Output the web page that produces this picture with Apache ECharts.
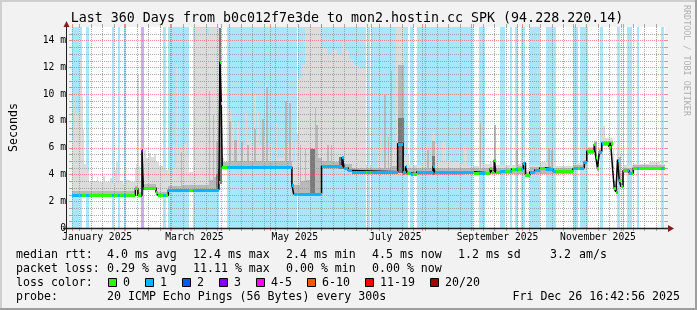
<!DOCTYPE html>
<html><head><meta charset="utf-8">
<script src="https://cdn.jsdelivr.net/npm/echarts@6/dist/echarts.min.js"></script>
<style>html,body{margin:0;padding:0;background:#f2f2f2}#c{width:697px;height:310px}</style>
</head><body><div id="c"></div><script>
// ---------- time frame (days since start of window) ----------
const START = Date.UTC(2024, 11, 31, 16, 42, 56);
const DAY = 86400000;
const SPAN = 360;
const YMAX = 15;
const dayOf = (y, m, d) => (Date.UTC(y, m, d) - START) / DAY;

// ---------- tick labels ----------
const xLabels = ['January 2025', 'March 2025', 'May 2025', 'July 2025', 'September 2025', 'November 2025'];
const xLabelMonths = [0, 2, 4, 6, 8, 10];
const yLabelValues = [0, 2, 4, 6, 8, 10, 12, 14];
const yLabels = ['0', '2 m', '4 m', '6 m', '8 m', '10 m', '12 m', '14 m'];

// ---------- loss background bands: [startDay, endDay, lossLevel] ----------
const lossBands = [
  [0,4.4,1],[4.8,6.1,1],[8.7,10.2,1],[24.1,25.3,1],[28.2,29.2,1],[31.8,32.8,1],[41.8,43.6,3],
  [55.4,57,1],[58.1,71.2,1],[73.3,89.3,1],[94.3,136.7,1],[137.3,178.5,1],[179.1,180.9,1],
  [181.8,203.8,1],[205.3,206.8,1],[209.5,243.2,1],[247,250.8,1],[260.1,263.1,1],[266.1,267,1],
  [269.1,270.8,1],[272.7,274.8,1],[278.1,284.2,1],[287.8,294,1],[304.3,307,1],[308.4,313.1,1],
  [320.6,322.1,1],[331.1,332.4,1],[334.4,335.3,1],[336.8,340.2,1],[343.2,344.5,1],[357.8,359.4,1]
];

// ---------- median rtt (ms): [startDay, endDay, value] ----------
const medianRuns = [
  [0,38.5,2.45],[38.5,40,2.95],[40,42.5,2.45],[42.5,43.3,5.8],[43.3,51,3.0],[51,52.2,2.7],[52.2,58.5,2.45],
  [58.5,89.2,2.85],[89.2,89.8,3.4],[89.8,90.6,12.4],[90.6,91.2,9.3],[91.2,133.5,4.55],[133.5,134.6,3.2],
  [134.6,151.5,2.55],[151.5,164,4.6],[164,165.2,5.3],[165.2,167.6,4.5],[167.6,170,4.3],[170,197.7,4.2],
  [197.7,201,6.3],[201,202.5,4.15],[202.5,203.5,4.6],[203.5,205.5,4.1],[205.5,209.3,4.05],[209.3,219.2,4.2],
  [219.2,220.4,4.6],[220.4,237.8,4.15],[237.8,243.8,4.2],[243.8,253.9,4.1],[253.9,255,4.45],[255,256.3,4.2],
  [256.3,257.3,5.1],[257.3,259.9,4.15],[259.9,266.9,4.25],[266.9,274,4.4],[274,275.3,4.85],[275.3,278,3.95],
  [278,281,4.2],[281,284,4.35],[284,287,4.5],[287,292,4.4],[292,304,4.25],[304,305,4.4],[305,311,4.5],
  [311,312.5,4.95],[312.5,317,5.75],[317,318,6.25],[318,319,5.3],[319,320.2,4.45],[320.2,321.6,5.7],
  [321.6,326,6.35],[326,327,6.05],[327,328.2,6.35],[328.2,329.2,4.4],[329.2,330.2,2.95],[330.2,331.2,2.7],
  [331.2,332.2,5.1],[332.2,333.2,3.6],[333.2,334.5,3.1],[334.5,338.2,4.3],[338.2,340.8,4.1],[340.8,360,4.5]
];

// ---------- smoke (ms): lower edge, and tops of light / mid / dark layers ----------
const smokeLowRuns = [
  [0,38.5,2.3],[38.5,40,2.8],[40,42.5,2.3],[42.5,43.3,2.9],[43.3,51,2.85],[51,52.2,2.5],[52.2,58.5,2.3],
  [58.5,89.2,2.7],[89.2,91.2,3.3],[91.2,133.5,4.4],[133.5,134.6,2.5],[134.6,151.5,2.4],[151.5,167.6,4.4],
  [167.6,170,4.15],[170,197.7,4.0],[197.7,201,4.1],[201,237.8,3.95],[237.8,275.3,4.0],[275.3,278,3.8],
  [278,304,4.05],[304,311,4.3],[311,312.5,4.7],[312.5,317,5.55],[317,318,5.9],[318,319,5.1],[319,320.2,4.25],
  [320.2,321.6,5.5],[321.6,328.2,6.1],[328.2,329.2,4.2],[329.2,330.2,2.75],[330.2,331.2,2.55],[331.2,332.2,4.8],
  [332.2,333.2,3.4],[333.2,334.5,2.95],[334.5,338.2,4.1],[338.2,340.8,3.95],[340.8,360,4.3]
];
const smokeLightRuns = [
  [0,1,6.6],[1,2,9.8],[2,3,8.6],[3,4.4,8.6],[4.4,5.5,12.6],[5.5,6.5,9.8],[6.5,7.5,7.4],[7.5,9,4.8],[9,10.5,4.2],
  [10.5,12,3.4],[12,13,4.0],[13,15,3.5],[15,16,3.8],[16,19,3.4],[19,20,3.9],[20,23,3.4],[23,24,3.7],[24,26,3.3],
  [26,27,4.3],[27,28,4.9],[28,29,3.9],[29,31,3.5],[31,33,3.3],[33,35,3.6],[35,38,3.4],
  [38,39,4.5],[39,39.7,4.8],[39.7,40.3,11.4],[40.3,41.5,4.6],[41.5,42.5,3.5],
  [42.5,43.5,6.0],[43.5,45,5.8],[45,47,5.2],[47,48,5.6],[48,50,5.3],[50,51,5.5],[51,53,4.9],[53,55,4.6],[55,57,4.2],[57,59.2,4.3],
  [59.2,61.2,3.8],[61.2,62.2,6.2],[62.2,63.2,4.5],[63.2,64.2,12.2],[64.2,64.8,5.5],[64.8,65.8,12.0],[65.8,68.2,5.8],
  [68.2,69.6,6.3],[69.6,71.2,5.5],[71.2,73.3,4.2],[73.3,74.9,14.0],[74.9,81.3,14.95],[81.3,83,14.5],[83,91.2,14.95],
  [91.2,92.3,5.2],[92.3,93.3,4.7],[93.3,94.3,5.0],[94.3,95.4,9.05],[95.4,96.8,8.9],[96.8,97.4,5.5],[97.4,98.4,7.9],
  [98.4,100.4,6.6],[100.4,101.4,7.9],[101.4,102.4,5.6],[102.4,103.4,6.9],[103.4,105.4,6.2],[105.4,106.4,8.6],
  [106.4,108.4,6.6],[108.4,109.4,7.7],[109.4,110.4,6.2],[110.4,111.4,10.0],[111.4,112.4,6.9],[112.4,113.4,8.7],
  [113.4,115.4,6.2],[115.4,116.4,8.1],[116.4,117.4,6.7],[117.4,118.6,10.7],[118.6,120.4,5.7],[120.4,121.4,6.3],
  [121.4,123,5.0],[123,124.4,7.8],[124.4,128.4,5.2],[128.4,129.4,5.8],[129.4,130.7,9.6],[130.7,131.9,6.3],
  [131.9,133.1,9.4],[133.1,134,6.6],[134,135.5,5.0],[135.5,136.7,6.4],[136.7,137.5,7.0],[137.5,139.5,11.2],
  [139.5,141.5,12.2],[141.5,151.5,14.95],[151.5,155,13.4],[155,158,13.0],[158,161,13.3],[161,164,13.0],
  [164,166,13.9],[166,168,13.2],[168,171,12.6],[171,174,12.2],[174,176.5,12.0],[176.5,178.5,11.9],
  [178.5,181.6,4.7],[181.6,185.6,4.5],[185.6,186.6,5.8],[186.6,187.6,7.1],[187.6,189.6,5.0],[189.6,190.7,9.9],
  [190.7,191.7,5.5],[191.7,192.7,6.8],[192.7,193.7,5.6],[193.7,194.5,11.7],[194.5,196.7,6.0],[196.7,201.3,14.95],
  [201.3,202.7,5.3],[202.7,204.7,5.5],[204.7,211.7,4.7],[211.7,212.7,5.8],[212.7,214.7,5.0],[214.7,215.8,6.2],
  [215.8,216.8,5.8],[216.8,218.8,5.0],[218.8,220.4,7.1],[220.4,221.8,6.3],[221.8,224.8,5.0],[224.8,226.8,6.4],
  [226.8,228.8,5.0],[228.8,229.8,5.3],[229.8,234.8,4.9],[234.8,235.8,5.9],[235.8,237.8,4.8],[237.8,238.8,6.2],
  [238.8,239.8,5.8],[239.8,240.8,4.6],[240.8,241.8,4.95],[241.8,247.4,4.6],[247.4,248.4,7.8],[248.4,253.9,4.8],
  [253.9,254.9,4.9],[254.9,256.3,4.6],[256.3,257.5,7.7],[257.5,269.5,4.7],[269.5,270.5,5.8],[270.5,274,4.8],
  [274,275.2,5.2],[275.2,278,4.3],[278,284,4.7],[284,289,4.95],[289,290.4,5.9],[290.4,291,5.0],[291,292,5.8],
  [292,294,4.9],[294,304,4.6],[304,311,4.85],[311,312.5,5.2],[312.5,317,6.05],[317,319,6.5],[319,320.2,5.0],
  [320.2,321.6,6.0],[321.6,323.5,7.6],[323.5,328.2,6.7],[328.2,329.2,5.9],[329.2,331.2,3.5],[331.2,333.2,5.5],
  [333.2,334.5,4.0],[334.5,340.8,4.7],[340.8,350,4.8],[350,357,4.95],[357,360,4.8]
];
const smokeMidRuns = [
  [0,38.5,2.75],[38.5,40,3.1],[40,42.5,2.7],[42.5,43.3,5.9],[43.3,51,3.25],[51,58.5,2.7],[58.5,66,3.1],[66,67,5.7],
  [67,82.9,3.2],[82.9,83.9,10.2],[83.9,85.3,3.6],[85.3,86.3,8.4],[86.3,87.3,3.8],[87.3,88.5,6.4],[88.5,89.2,3.8],
  [89.2,90.6,14.95],[90.6,91.2,9.5],[91.2,95.4,4.9],[95.4,96.8,7.9],[96.8,98.4,5.0],[98.4,100.4,6.6],[100.4,102.4,5.0],
  [102.4,103.6,6.4],[103.6,106.4,5.0],[106.4,107.4,6.2],[107.4,110.2,5.0],[110.2,111.4,7.4],[111.4,115.4,5.0],
  [115.4,116.4,8.1],[116.4,118,5.0],[118,119,10.5],[119,129.4,5.0],[129.4,130.4,9.5],[130.4,131.9,5.0],
  [131.9,133.1,9.3],[133.1,133.5,5.0],[133.5,138.3,3.2],[138.3,139.3,6.2],[139.3,141.3,3.5],[141.3,142.3,5.9],
  [142.3,144.3,3.6],[144.3,146.3,6.0],[146.3,147.3,5.9],[147.3,148.3,8.95],[148.3,149.3,7.7],[149.3,151.5,5.2],
  [151.5,155,5.0],[155,156,6.2],[156,157,5.0],[157,158,6.2],[158,164,4.9],[164,165.2,5.4],[165.2,170,4.8],
  [170,189.6,4.5],[189.6,190.7,9.9],[190.7,191.7,4.5],[191.7,192.7,6.8],[192.7,193.7,4.5],[193.7,194.5,11.7],
  [194.5,197.7,4.6],[197.7,201.3,12.2],[201.3,215.8,4.5],[215.8,216.8,5.8],[216.8,218.8,4.5],[218.8,220.4,6.5],
  [220.4,247.4,4.5],[247.4,248.4,7.8],[248.4,256.3,4.45],[256.3,257.5,7.7],[257.5,269.5,4.5],[269.5,270.5,5.8],
  [270.5,275.3,4.6],[275.3,278,4.15],[278,289,4.55],[289,290.4,5.9],[290.4,291,4.6],[291,292,5.8],[292,304,4.45],
  [304,311,4.7],[311,312.5,5.1],[312.5,317,5.95],[317,319,6.4],[319,320.2,4.7],[320.2,321.6,5.9],[321.6,328.2,6.5],
  [328.2,329.2,4.6],[329.2,331.2,3.1],[331.2,333.2,5.3],[333.2,334.5,3.3],[334.5,340.8,4.45],[340.8,360,4.7]
];
const smokeDarkRuns = [
  [87.3,88.7,4.0],[88.7,89.2,4.4],[89.2,90.6,14.95],[90.6,91.2,9.5],[144.3,147.3,5.9],[162,165.2,5.3],
  [197.7,201.3,8.2],[218.8,220.4,5.4]
];

// ---------- legend text ----------
const title = 'Last 360 Days from b0c012f7e3de to mon2.hostin.cc SPK (94.228.220.14)';
const medianStats = ['4.0 ms avg', '12.4 ms max', '2.4 ms min', '4.5 ms now', '1.2 ms sd', '3.2', 'am/s'];
const lossStats = ['0.29 % avg', '11.11 % max', '0.00 % min', '0.00 % now'];
const lossLegend = ['0', '1', '2', '3', '4-5', '6-10', '11-19', '20/20'];
const lossLegendColors = ['#26ff00', '#00b8ff', '#0059ff', '#7e00ff', '#ff00ff', '#ff5500', '#ff0000', '#a00000'];
const probeText = '20 ICMP Echo Pings (56 Bytes) every 300s';
const stampText = 'Fri Dec 26 16:42:56 2025';

// ---------- styling ----------
const MONO = '"DejaVu Sans Mono", monospace';
const FS = 11.6;      // legend / unit font
const AFS = 9.7;      // axis tick label font
const FONT = FS + 'px ' + MONO;
const MINOR = 'rgba(143,143,143,0.75)';
const MAJOR = 'rgba(222,79,79,0.6)';
const bandColor = {1: '#aae6fb', 3: '#d0abf5'};
const medianColor = {0: '#26ff00', 1: '#00b8ff', 3: '#7e00ff'};

const monthStarts = [];
for (let m = 0; m < 12; m++) monthStarts.push(dayOf(2025, m, 1));
const weekStarts = [];
for (let d = dayOf(2025, 0, 5); d < SPAN; d += 7) weekStarts.push(d);
const xLabelDays = xLabelMonths.map(m => dayOf(2025, m, 1) + 15);

function splitByLoss(a, b) {
  const out = []; let cur = a;
  for (const [s, e, c] of lossBands) {
    if (e <= a || s >= b) continue;
    if (s > cur) out.push([cur, s, 0]);
    const ss = Math.max(s, cur), ee = Math.min(e, b);
    if (ee > ss) out.push([ss, ee, c]);
    cur = Math.max(cur, ee);
  }
  if (cur < b) out.push([cur, b, 0]);
  return out;
}

function smokeRender(color) {
  return function (params, api) {
    const d0 = api.value(0), d1 = api.value(1), hi = api.value(2);
    const children = [];
    for (const [a, b, lo] of smokeLowRuns) {
      const s = Math.max(a, d0), e = Math.min(b, d1);
      if (e <= s || hi <= lo) continue;
      const p0 = api.coord([s, hi]), p1 = api.coord([e, lo]);
      const x0 = Math.round(p0[0]), x1 = Math.round(p1[0]);
      const y0 = Math.round(p0[1]), y1 = Math.round(p1[1]);
      children.push({type: 'rect', shape: {x: x0, y: y0, width: Math.max(1, x1 - x0), height: y1 - y0},
        style: {fill: color}});
    }
    return {type: 'group', children};
  };
}

const medianLine = [];
for (const [a, b, v] of medianRuns) { medianLine.push([a, v]); medianLine.push([b, v]); }

const vGridData = monthStarts.map(d => [d, 1]).concat(weekStarts.map(d => [d, 0]));
const hGridData = [];
for (let v = 0.5; v < YMAX; v += 0.5) hGridData.push([v, (v % 2 === 0) ? 1 : 0]);

const chart = echarts.init(document.getElementById('c'), null, {renderer: 'canvas'});

const graphics = [];
// frame shading
graphics.push({type: 'rect', shape: {x: 0, y: 0, width: 697, height: 2}, style: {fill: '#cfcfcf'}, silent: true});
graphics.push({type: 'rect', shape: {x: 0, y: 0, width: 2, height: 310}, style: {fill: '#cfcfcf'}, silent: true});
graphics.push({type: 'rect', shape: {x: 0, y: 308, width: 697, height: 2}, style: {fill: '#9e9e9e'}, silent: true});
graphics.push({type: 'rect', shape: {x: 695, y: 0, width: 2, height: 310}, style: {fill: '#9e9e9e'}, silent: true});
function txt(x, y, s, align, font, fill) {
  return {type: 'text', x, y, silent: true,
    style: {text: s, font: font || FONT, fill: fill || '#000', textAlign: align || 'left', align: align || 'left',
      textVerticalAlign: 'middle', verticalAlign: 'middle'}};
}
graphics.push(txt(347, 18.5, title, 'center', '13.3px ' + MONO));
const r = [255, 269, 283, 297];
graphics.push(txt(16, r[0], 'median rtt:'));
const mX = [107, 193, 286, 372, 458, 550, 579];
medianStats.forEach((s, i) => graphics.push(txt(mX[i], r[0], s)));
graphics.push(txt(16, r[1], 'packet loss:'));
lossStats.forEach((s, i) => graphics.push(txt(mX[i], r[1], s)));
graphics.push(txt(16, r[2], 'loss color:'));
const boxX = [108, 145, 182, 219, 256, 307, 365, 430];
lossLegend.forEach((s, i) => {
  graphics.push({type: 'rect', shape: {x: boxX[i] + 0.5, y: 278.5, width: 8, height: 8}, silent: true,
    style: {fill: lossLegendColors[i], stroke: '#000', lineWidth: 1}});
  graphics.push(txt(boxX[i] + 15, r[2], s));
});
graphics.push(txt(16, r[3], 'probe:'));
graphics.push(txt(107, r[3], probeText));
graphics.push(txt(680, r[3], stampText, 'right'));
graphics.push({type: 'text', x: 690, y: 5, rotation: -Math.PI / 2, silent: true,
  style: {text: 'RRDTOOL / TOBI OETIKER', font: '8.4px ' + MONO, fill: '#b0b0b0', textAlign: 'left', align: 'left',
    textVerticalAlign: 'top', verticalAlign: 'top'}});
// axis line extensions and arrows
graphics.push({type: 'line', shape: {x1: 63, y1: 228.5, x2: 669, y2: 228.5}, style: {stroke: '#1f1f1f', lineWidth: 1.5}, silent: true, z: 9});
graphics.push({type: 'line', shape: {x1: 66.5, y1: 232, x2: 66.5, y2: 24}, style: {stroke: '#1f1f1f', lineWidth: 1}, silent: true, z: 9});
graphics.push({type: 'polygon', shape: {points: [[668, 225], [674, 228.5], [668, 232]]}, style: {fill: '#801f1f'}, silent: true, z: 10});
graphics.push({type: 'polygon', shape: {points: [[63.5, 27], [66.5, 21], [69.5, 27]]}, style: {fill: '#801f1f'}, silent: true, z: 10});

chart.setOption({
  animation: false,
  backgroundColor: '#f2f2f2',
  grid: {left: 67, right: 32, top: 27, height: 201, show: true, backgroundColor: '#ffffff', borderWidth: 0},
  xAxis: {
    type: 'value', min: 0, max: SPAN, z: 6,
    axisLine: {show: false},
    axisTick: {show: false},
    splitLine: {show: false},
    axisLabel: {
      customValues: xLabelDays, margin: 4, color: '#000', fontFamily: MONO, fontSize: AFS,
      formatter: v => { const i = xLabelDays.findIndex(d => Math.abs(d - v) < 0.01); return i >= 0 ? xLabels[i] : ''; }
    }
  },
  yAxis: {
    type: 'value', min: 0, max: YMAX, z: 6,
    name: 'Seconds', nameLocation: 'middle', nameGap: 52, nameRotate: 90,
    nameTextStyle: {fontFamily: MONO, fontSize: FS, color: '#000'},
    axisLine: {show: false},
    axisTick: {show: false},
    splitLine: {show: false},
    axisLabel: {
      customValues: yLabelValues, margin: 6, color: '#000', fontFamily: MONO, fontSize: AFS,
      formatter: v => { const i = yLabelValues.indexOf(v); return i >= 0 ? yLabels[i] : ''; }
    }
  },
  graphic: {elements: graphics},
  series: [
    {
      type: 'custom', name: 'loss background', z: 1, clip: true, silent: true,
      data: lossBands, encode: {x: [0, 1], y: 2},
      renderItem: (params, api) => {
        const a = api.coord([api.value(0), YMAX]), b = api.coord([api.value(1), 0]);
        const x0 = Math.round(a[0]), x1 = Math.round(b[0]);
        return {type: 'rect', shape: {x: x0, y: a[1], width: Math.max(1, x1 - x0), height: b[1] - a[1]},
          style: {fill: bandColor[api.value(2)]}};
      }
    },
    {type: 'custom', name: 'smoke light', z: 2, clip: true, silent: true, data: smokeLightRuns,
      encode: {x: [0, 1], y: 2}, renderItem: smokeRender('#dcdcdc')},
    {type: 'custom', name: 'smoke mid', z: 2, clip: true, silent: true, data: smokeMidRuns,
      encode: {x: [0, 1], y: 2}, renderItem: smokeRender('#b9b9b9')},
    {type: 'custom', name: 'smoke dark', z: 2, clip: true, silent: true, data: smokeDarkRuns,
      encode: {x: [0, 1], y: 2}, renderItem: smokeRender('#7a7a7a')},
    {
      type: 'custom', name: 'vgrid', z: 3, clip: false, silent: true, data: vGridData, encode: {x: 0, y: 1},
      renderItem: (params, api) => {
        const d = api.value(0), k = api.value(1);
        const p0 = api.coord([d, 0]), p1 = api.coord([d, YMAX]);
        const x = Math.round(p0[0]) + 0.5, col = k ? MAJOR : MINOR;
        return {type: 'group', children: [
          {type: 'line', shape: {x1: x, y1: p0[1], x2: x, y2: p1[1]}, style: {stroke: col, lineWidth: 1, lineDash: [1, 1]}},
          {type: 'line', shape: {x1: x, y1: p0[1], x2: x, y2: p0[1] + 3}, style: {stroke: col, lineWidth: 1}},
          {type: 'line', shape: {x1: x, y1: p1[1] - 3, x2: x, y2: p1[1]}, style: {stroke: col, lineWidth: 1}}
        ]};
      }
    },
    {
      type: 'custom', name: 'hgrid', z: 3, clip: false, silent: true, data: hGridData, encode: {x: 1, y: 0},
      renderItem: (params, api) => {
        const v = api.value(0), k = api.value(1);
        const p0 = api.coord([0, v]), p1 = api.coord([SPAN, v]);
        const y = Math.round(p0[1]) + 0.5, col = k ? MAJOR : MINOR;
        return {type: 'group', children: [
          {type: 'line', shape: {x1: p0[0], y1: y, x2: p1[0], y2: y}, style: {stroke: col, lineWidth: 1, lineDash: [1, 1]}},
          {type: 'line', shape: {x1: p0[0] - 3, y1: y, x2: p0[0], y2: y}, style: {stroke: col, lineWidth: 1}},
          {type: 'line', shape: {x1: p1[0], y1: y, x2: p1[0] + 3, y2: y}, style: {stroke: col, lineWidth: 1}}
        ]};
      }
    },
    {
      type: 'line', name: 'median', z: 4, data: medianLine, showSymbol: false, silent: true,
      lineStyle: {color: '#000', width: 1.5}, clip: true
    },
    {
      type: 'custom', name: 'median loss', z: 5, clip: true, silent: true, data: medianRuns, encode: {x: [0, 1], y: 2},
      renderItem: (params, api) => {
        const d0 = api.value(0), d1 = api.value(1), v = api.value(2);
        const y = Math.round(api.coord([d0, v])[1]) + 0.5;
        const children = splitByLoss(d0, d1).map(([s, e, c]) => ({
          type: 'line',
          shape: {x1: Math.round(api.coord([s, v])[0]), y1: y, x2: Math.round(api.coord([e, v])[0]), y2: y},
          style: {stroke: medianColor[c], lineWidth: 3, lineCap: 'butt'}
        }));
        return {type: 'group', children};
      }
    }
  ]
});
</script></body></html>
